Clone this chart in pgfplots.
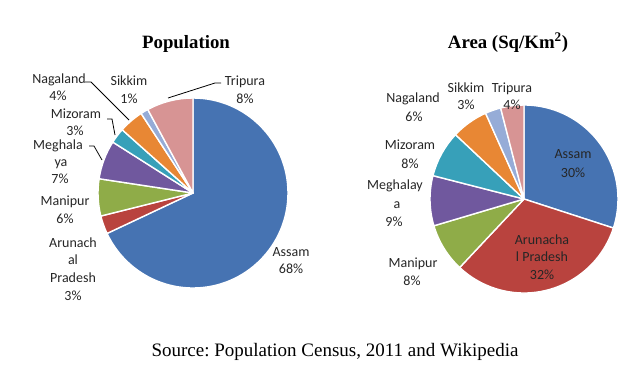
\documentclass[border=0pt]{standalone}
\usepackage{pgfplots}
\pgfplotsset{compat=1.18}
\usepackage{pgfplotstable}
\usepackage{fontspec}
\setmainfont{Liberation Serif}
\newfontfamily\calfont{Carlito}
\frenchspacing

\definecolor{pie0}{RGB}{70,115,178}
\definecolor{pie1}{RGB}{185,67,62}
\definecolor{pie2}{RGB}{143,172,72}
\definecolor{pie3}{RGB}{112,88,158}
\definecolor{pie4}{RGB}{55,160,185}
\definecolor{pie5}{RGB}{232,135,52}
\definecolor{pie6}{RGB}{150,172,215}
\definecolor{pie7}{RGB}{215,148,148}

% Population share (%), clockwise from 12 o'clock
\pgfplotstableread{
state value
Assam 68.0
ArunachalPradesh 3.1
Manipur 6.3
Meghalaya 6.6
Mizoram 2.6
Nagaland 4.2
Sikkim 1.3
Tripura 7.9
}\popdata

% Area share (%), clockwise from 12 o'clock
\pgfplotstableread{
state value
Assam 30.0
ArunachalPradesh 32.0
Manipur 8.4
Meghalaya 8.6
Mizoram 8.0
Nagaland 6.3
Sikkim 2.7
Tripura 4.0
}\areadata

% build the list of wedge commands from a table into a global macro
\newcommand\buildpie[3]{% #1 table, #2 radius in bp, #3 target macro
  \pgfplotstablegetrowsof{#1}%
  \pgfmathtruncatemacro\nrows{\pgfplotsretval-1}%
  \gdef#3{}%
  \gdef\cum{0}%
  \foreach \i in {0,...,\nrows}{%
    \pgfplotstablegetelem{\i}{value}\of{#1}%
    \let\v\pgfplotsretval
    \pgfmathsetmacro\a{90-3.6*\cum}%
    \pgfmathsetmacro\b{90-3.6*(\cum+\v)}%
    \pgfmathsetmacro\xa{cos(\a)}%
    \pgfmathsetmacro\ya{sin(\a)}%
    \xdef#3{\unexpanded\expandafter{#3}%
      \noexpand\fill[pie\i,draw=white,line width=1.4bp,line join=round]
      (axis cs:0,0) -- (axis cs:\xa,\ya)
      arc[start angle=\a,end angle=\b,radius=#2bp] -- cycle;}%
    \pgfmathsetmacro\c{\cum+\v}%
    \xdef\cum{\c}%
  }%
}
\buildpie{\popdata}{95}{\popfills}
\buildpie{\areadata}{94}{\areafills}

\newcommand\lab[3]{\node[anchor=base,inner sep=0pt,font=\calfont\fontsize{14bp}{17bp}\selectfont,text=black!85] at (#1bp,-#2bp) {#3};}

\begin{document}
\begin{tikzpicture}
\path[use as bounding box] (0bp,0bp) rectangle (631bp,-382bp);

\begin{axis}[at={(193bp,-193bp)}, anchor=origin, scale only axis,
  width=190bp, height=190bp, xmin=-1, xmax=1, ymin=-1, ymax=1,
  hide axis, clip=false]
  \popfills
\end{axis}

\begin{axis}[at={(524bp,-199bp)}, anchor=origin, scale only axis,
  width=188bp, height=188bp, xmin=-1, xmax=1, ymin=-1, ymax=1,
  hide axis, clip=false]
  \areafills
\end{axis}

% titles
\node[anchor=base,inner sep=0pt,font=\fontsize{18.8bp}{22bp}\selectfont\bfseries] at (186bp,-48bp) {Population};
\node[anchor=base,inner sep=0pt,font=\fontsize{18.8bp}{22bp}\selectfont\bfseries] at (508bp,-48bp) {Area (Sq/Km\textsuperscript{2})};

% population labels
\lab{245}{85}{Tripura}\lab{245}{103}{8\%}
\lab{129}{85}{Sikkim}\lab{129}{103}{1\%}
\lab{59}{83}{Nagaland}\lab{58}{100}{4\%}
\lab{76}{118}{Mizoram}\lab{75}{135}{3\%}
\lab{58}{149}{Meghala}\lab{61}{166}{ya}\lab{60}{183}{7\%}
\lab{65}{205}{Manipur}\lab{65}{223}{6\%}
\lab{73}{247}{Arunach}\lab{73}{264}{al}\lab{73}{282}{Pradesh}\lab{73}{300}{3\%}
\lab{291}{256}{Assam}\lab{291}{273}{68\%}

\draw[line width=0.8bp] (221bp,-83bp) -- (215bp,-83bp) -- (168bp,-98bp);
\draw[line width=0.8bp] (85bp,-82bp) -- (91bp,-82bp) -- (129bp,-120bp);
\draw[line width=0.8bp] (107bp,-119bp) -- (112bp,-119bp) -- (115bp,-135bp);
\draw[line width=0.8bp] (89bp,-146bp) -- (94bp,-146bp) -- (102bp,-160bp);

% area labels
\lab{466}{92}{Sikkim}\lab{466}{109}{3\%}
\lab{512}{92}{Tripura}\lab{512}{109}{4\%}
\lab{413}{102}{Nagaland}\lab{414}{121}{6\%}
\lab{410}{149}{Mizoram}\lab{410}{168}{8\%}
\lab{395}{189}{Meghalay}\lab{397}{208}{a}\lab{394}{226}{9\%}
\lab{413}{267}{Manipur}\lab{412}{285}{8\%}
\lab{573}{158}{Assam}\lab{573}{177}{30\%}
\lab{542}{244}{Arunacha}\lab{542}{261}{l Pradesh}\lab{542}{279}{32\%}

% source
\node[anchor=base,inner sep=0pt,font=\fontsize{19bp}{22bp}\selectfont] at (335bp,-356bp) {Source: Population Census, 2011 and Wikipedia};
\end{tikzpicture}
\end{document}
